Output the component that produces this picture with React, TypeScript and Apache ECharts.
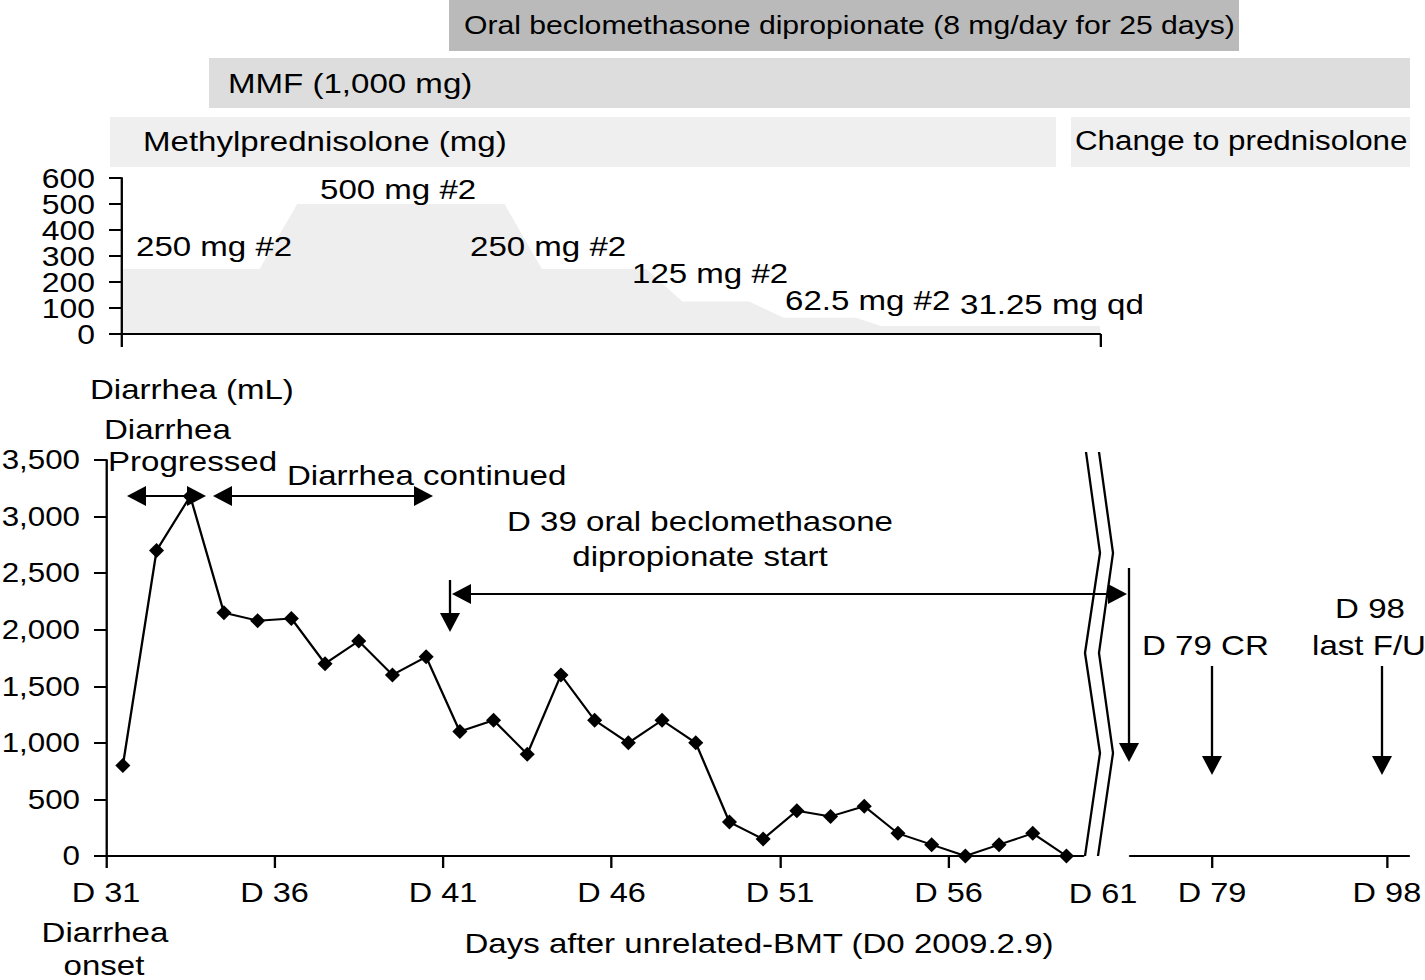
import React, { useEffect, useRef } from 'react';
import * as echarts from 'echarts';

// ---------- data ----------
// Methylprednisolone dose steps (day, mg)
const doseDays = [31, 35.25, 36.4, 42.75, 43.9, 47.1, 48.2, 50.25, 51.3, 53.5, 54.3, 61];
const doseMg = [250, 250, 500, 500, 250, 250, 125, 125, 62.5, 62.5, 31.25, 31.25];
const doseTicksEven = [0, 200, 400, 600];
const doseTicksOdd = [100, 300, 500];

// Diarrhea volume (mL) per day after BMT
const diarrheaDays = [31, 32, 33, 34, 35, 36, 37, 38, 39, 40, 41, 42, 43, 44, 45, 46, 47, 48, 49, 50, 51, 52, 53, 54, 55, 56, 57, 58, 59];
const diarrheaVolumes = [800, 2700, 3180, 2150, 2080, 2100, 1700, 1900, 1600, 1760, 1100, 1200, 900, 1600, 1200, 1000, 1200, 1000, 300, 150, 400, 350, 440, 200, 100, 0, 100, 200, 0];
const mainTickDays = [31, 36, 41, 46, 51, 56];
const laterTickDays = [79, 98];

// ---------- layout helpers ----------
const S = 1.16; // horizontal stretch of the original figure
const FONT = '"Liberation Sans", Arial, sans-serif';
const P = (x: number) => x / S;

const txt = (text: string, x: number, y: number, size = 28.5, align = 'left') => ({
  type: 'text',
  x: P(x),
  y,
  silent: true,
  z: 10,
  style: { text, fontSize: size, fontFamily: FONT, fill: '#000', textAlign: align, textVerticalAlign: 'middle' },
});
const rect = (x: number, y: number, w: number, h: number, fill: string) => ({
  type: 'rect', silent: true, z: 1,
  shape: { x: P(x), y, width: P(w), height: h },
  style: { fill },
});
const seg = (x1: number, y1: number, x2: number, y2: number) => ({
  type: 'line', silent: true, z: 10,
  shape: { x1: P(x1), y1, x2: P(x2), y2 },
  style: { stroke: '#000', lineWidth: 2 },
});
const poly = (pts: number[][]) => ({
  type: 'polygon', silent: true, z: 10,
  shape: { points: pts.map(([x, y]) => [P(x), y]) },
  style: { fill: '#000' },
});
const pline = (pts: number[][]) => ({
  type: 'polyline', silent: true, z: 10,
  shape: { points: pts.map(([x, y]) => [P(x), y]) },
  style: { stroke: '#000', lineWidth: 2, fill: 'none' },
});
const HL = 19, HW = 10;
const headL = (x: number, y: number) => poly([[x, y], [x + HL, y - HW], [x + HL, y + HW]]);
const headR = (x: number, y: number) => poly([[x, y], [x - HL, y - HW], [x - HL, y + HW]]);
const headD = (x: number, y: number) => poly([[x, y], [x - HW, y - HL], [x + HW, y - HL]]);
const dblArrow = (x1: number, x2: number, y: number) => [seg(x1 + 4, y, x2 - 4, y), headL(x1, y), headR(x2, y)];
const downArrow = (x: number, y1: number, y2: number) => [seg(x, y1, x, y2 - 6), headD(x, y2)];

const graphics: any[] = [
  // treatment bars
  rect(449, 0, 790, 51, '#bababa'),
  rect(209, 58, 1201, 50, '#dddddd'),
  rect(110, 117, 946, 50, '#efefef'),
  rect(1071, 117, 339, 50, '#efefef'),
  txt('Oral beclomethasone dipropionate (8 mg/day for 25 days)', 464, 25, 26),
  txt('MMF (1,000 mg)', 228, 83),
  txt('Methylprednisolone (mg)', 143, 141),
  txt('Change to prednisolone', 1075, 141, 27),
  // dose labels
  txt('250 mg #2', 136, 246),
  txt('500 mg #2', 320, 189),
  txt('250 mg #2', 470, 246),
  txt('125 mg #2', 632, 273),
  txt('62.5 mg #2', 785, 300),
  txt('31.25 mg qd', 960, 304),
  // diarrhea annotations
  txt('Diarrhea (mL)', 90, 389),
  txt('Diarrhea', 104, 429),
  txt('Progressed', 108, 461),
  txt('Diarrhea continued', 287, 475),
  txt('D 39 oral beclomethasone', 700, 521, 28.5, 'center'),
  txt('dipropionate start', 700, 556, 28.5, 'center'),
  txt('D 79 CR', 1142, 645),
  txt('D 98', 1370, 608, 28.5, 'center'),
  txt('last F/U', 1369, 645, 28.5, 'center'),
  txt('D 61', 1103, 893, 28, 'center'),
  txt('Diarrhea', 105, 932, 28.5, 'center'),
  txt('onset', 104, 965, 28.5, 'center'),
  txt('Days after unrelated-BMT (D0 2009.2.9)', 759, 943, 28.5, 'center'),
  // arrows
  ...dblArrow(127, 206, 496),
  ...dblArrow(213, 433, 496),
  ...dblArrow(452, 1127, 594),
  ...downArrow(450, 580, 632),
  ...downArrow(1129, 568, 762),
  ...downArrow(1212, 666, 775),
  ...downArrow(1382, 666, 775),
  // axis break
  pline([[1086, 452], [1100, 553], [1085, 653], [1100, 753], [1085, 856]]),
  pline([[1099, 452], [1113, 553], [1099, 653], [1113, 753], [1098, 856]]),
];

const axisText = { color: '#000', fontSize: 28, fontFamily: FONT };
const axisLine = { show: true, onZero: false, lineStyle: { color: '#000', width: 2 } };
const xTick = { show: true, length: 12, lineStyle: { color: '#000', width: 2 } };
const yTick = { show: true, length: P(12), lineStyle: { color: '#000', width: 2 } };
const doseLabel = {
  ...axisText, fontSize: 27.5, lineHeight: 18, margin: P(26),
  showMinLabel: true, showMaxLabel: true, hideOverlap: false,
};

const option: any = {
  animation: false,
  backgroundColor: '#fff',
  textStyle: { fontFamily: FONT },
  grid: [
    { left: P(121), top: 178, width: P(979), height: 156, outerBoundsMode: 'none', containLabel: false },
    { left: P(106), top: 460, width: P(977.3), height: 396, outerBoundsMode: 'none', containLabel: false },
    { left: P(1130), top: 460, width: P(279), height: 396, outerBoundsMode: 'none', containLabel: false },
  ],
  xAxis: [
    {
      type: 'value', gridIndex: 0, min: 31, max: 61, z: 6,
      axisLine, splitLine: { show: false },
      axisTick: { ...xTick, length: 13, customValues: [31, 61] },
      axisLabel: { show: false },
    },
    {
      type: 'value', gridIndex: 1, min: 31, max: 60,
      axisLine, splitLine: { show: false },
      axisTick: { ...xTick, customValues: mainTickDays },
      axisLabel: { ...axisText, margin: 22, customValues: mainTickDays, formatter: (v: number) => 'D ' + v },
    },
    {
      type: 'value', gridIndex: 2, min: 70.1, max: 100.4,
      axisLine, splitLine: { show: false },
      axisTick: { ...xTick, customValues: laterTickDays },
      axisLabel: { ...axisText, margin: 22, customValues: laterTickDays, formatter: (v: number) => 'D ' + v },
    },
  ],
  yAxis: [
    {
      type: 'value', gridIndex: 0, position: 'left', min: 0, max: 600, interval: 100, z: 6,
      axisLine, axisTick: yTick, splitLine: { show: false },
      axisLabel: { ...doseLabel, customValues: doseTicksEven },
    },
    {
      type: 'value', gridIndex: 0, position: 'left', offset: 0, min: 0, max: 600, interval: 100, z: 6,
      axisLine: { show: false }, axisTick: { show: false }, splitLine: { show: false },
      axisLabel: { ...doseLabel, customValues: doseTicksOdd },
    },
    {
      type: 'value', gridIndex: 1, min: 0, max: 3500, interval: 500,
      axisLine, axisTick: yTick, splitLine: { show: false },
      axisLabel: {
        ...axisText, fontSize: 27, margin: P(26), showMinLabel: true, showMaxLabel: true,
        formatter: (v: number) => v.toLocaleString('en-US'),
      },
    },
    { type: 'value', gridIndex: 2, min: 0, max: 3500, show: false },
  ],
  series: [
    {
      type: 'line', xAxisIndex: 0, yAxisIndex: 0,
      data: doseDays.map((d, i) => [d, doseMg[i]]),
      symbol: 'none',
      lineStyle: { width: 0, color: '#eeeeee' },
      areaStyle: { color: '#eeeeee', opacity: 1 },
      z: 1,
    },
    {
      type: 'line', xAxisIndex: 1, yAxisIndex: 2,
      data: diarrheaDays.map((d, i) => [d + 0.5, diarrheaVolumes[i]]),
      symbol: 'diamond', symbolSize: [13, 15],
      itemStyle: { color: '#000' },
      lineStyle: { color: '#000', width: 2 },
      z: 5,
    },
  ],
  graphic: graphics,
};

export default function App() {
  const ref = useRef<HTMLDivElement>(null);
  useEffect(() => {
    document.body.style.margin = '0';
    document.body.style.overflow = 'hidden';
    const chart = echarts.init(ref.current as HTMLDivElement, undefined, { renderer: 'svg' });
    chart.setOption(option);
    return () => chart.dispose();
  }, []);
  return (
    <div
      ref={ref}
      style={{
        position: 'absolute', left: 0, top: 0,
        width: 1425 / S, height: 980,
        transform: `scaleX(${S})`, transformOrigin: '0 0',
        background: '#fff',
      }}
    />
  );
}
